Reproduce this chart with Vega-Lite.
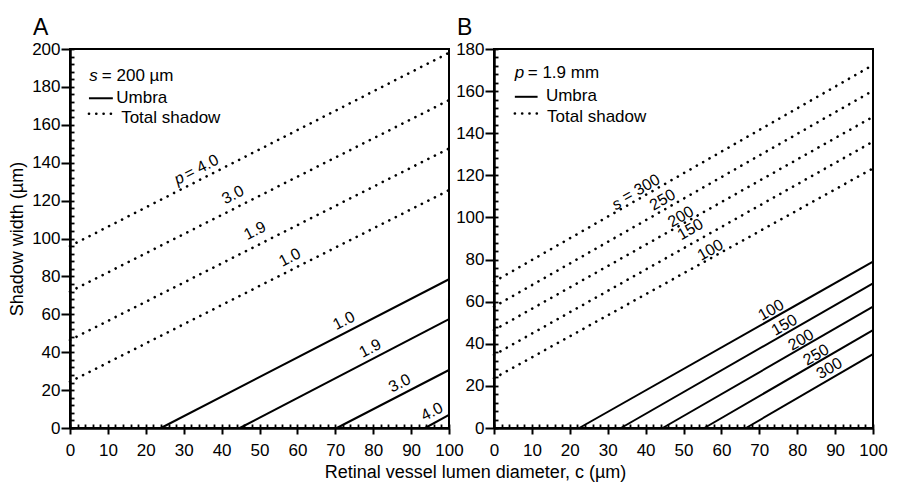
{
  "$schema": "https://vega.github.io/schema/vega-lite/v6.json",
  "background": "white",
  "padding": {"left": 7, "top": 16, "right": 5, "bottom": 5},
  "datasets": {
    "lines": [
      {"panel": "A", "kind": "total", "param": "4.0", "x": 0, "y": 96},
      {"panel": "A", "kind": "total", "param": "4.0", "x": 100, "y": 198},
      {"panel": "A", "kind": "total", "param": "3.0", "x": 0, "y": 72},
      {"panel": "A", "kind": "total", "param": "3.0", "x": 100, "y": 173},
      {"panel": "A", "kind": "total", "param": "1.9", "x": 0, "y": 46.4},
      {"panel": "A", "kind": "total", "param": "1.9", "x": 100, "y": 147.5},
      {"panel": "A", "kind": "total", "param": "1.0", "x": 0, "y": 24.4},
      {"panel": "A", "kind": "total", "param": "1.0", "x": 100, "y": 125.5},
      {"panel": "A", "kind": "umbra", "param": "1.0", "x": 24, "y": 0},
      {"panel": "A", "kind": "umbra", "param": "1.0", "x": 100, "y": 78.5},
      {"panel": "A", "kind": "umbra", "param": "1.9", "x": 44.8, "y": 0},
      {"panel": "A", "kind": "umbra", "param": "1.9", "x": 100, "y": 57.4},
      {"panel": "A", "kind": "umbra", "param": "3.0", "x": 70.4, "y": 0},
      {"panel": "A", "kind": "umbra", "param": "3.0", "x": 100, "y": 30.6},
      {"panel": "A", "kind": "umbra", "param": "4.0", "x": 93.7, "y": 0},
      {"panel": "A", "kind": "umbra", "param": "4.0", "x": 100, "y": 6.9},
      {"panel": "A", "kind": "umbra", "param": "legend", "x": 5, "y": 174},
      {"panel": "A", "kind": "umbra", "param": "legend", "x": 11.3, "y": 174},
      {"panel": "A", "kind": "total", "param": "legend", "x": 5, "y": 165.8},
      {"panel": "A", "kind": "total", "param": "legend", "x": 11.3, "y": 165.8},
      {"panel": "B", "kind": "total", "param": "300", "x": 0, "y": 69.5},
      {"panel": "B", "kind": "total", "param": "300", "x": 100, "y": 172.4},
      {"panel": "B", "kind": "total", "param": "250", "x": 0, "y": 57.6},
      {"panel": "B", "kind": "total", "param": "250", "x": 100, "y": 160.2},
      {"panel": "B", "kind": "total", "param": "200", "x": 0, "y": 46.5},
      {"panel": "B", "kind": "total", "param": "200", "x": 100, "y": 147.8},
      {"panel": "B", "kind": "total", "param": "150", "x": 0, "y": 34.7},
      {"panel": "B", "kind": "total", "param": "150", "x": 100, "y": 136},
      {"panel": "B", "kind": "total", "param": "100", "x": 0, "y": 23.6},
      {"panel": "B", "kind": "total", "param": "100", "x": 100, "y": 123.3},
      {"panel": "B", "kind": "umbra", "param": "100", "x": 22.5, "y": 0},
      {"panel": "B", "kind": "umbra", "param": "100", "x": 100, "y": 79},
      {"panel": "B", "kind": "umbra", "param": "150", "x": 33.5, "y": 0},
      {"panel": "B", "kind": "umbra", "param": "150", "x": 100, "y": 68.7},
      {"panel": "B", "kind": "umbra", "param": "200", "x": 44.5, "y": 0},
      {"panel": "B", "kind": "umbra", "param": "200", "x": 100, "y": 57.6},
      {"panel": "B", "kind": "umbra", "param": "250", "x": 55.5, "y": 0},
      {"panel": "B", "kind": "umbra", "param": "250", "x": 100, "y": 46.5},
      {"panel": "B", "kind": "umbra", "param": "300", "x": 66.5, "y": 0},
      {"panel": "B", "kind": "umbra", "param": "300", "x": 100, "y": 35.1},
      {"panel": "B", "kind": "umbra", "param": "legend", "x": 5.5, "y": 157.3},
      {"panel": "B", "kind": "umbra", "param": "legend", "x": 11.5, "y": 157.3},
      {"panel": "B", "kind": "total", "param": "legend", "x": 5.5, "y": 149.4},
      {"panel": "B", "kind": "total", "param": "legend", "x": 11.5, "y": 149.4}
    ],
    "labels": [
      {"panel": "A", "role": "symbol", "text": "p", "x": 28.8, "y": 131.7},
      {"panel": "A", "role": "line", "text": "= 4.0", "x": 34.7, "y": 137.7},
      {"panel": "A", "role": "line", "text": "3.0", "x": 43, "y": 123},
      {"panel": "A", "role": "line", "text": "1.9", "x": 48.8, "y": 104.1},
      {"panel": "A", "role": "line", "text": "1.0", "x": 58, "y": 90},
      {"panel": "A", "role": "line", "text": "1.0", "x": 72.3, "y": 56.6},
      {"panel": "A", "role": "line", "text": "1.9", "x": 79.2, "y": 42},
      {"panel": "A", "role": "line", "text": "3.0", "x": 87, "y": 23.6},
      {"panel": "A", "role": "line", "text": "4.0", "x": 95.5, "y": 8.6},
      {"panel": "A", "role": "legendsym", "text": "s", "x": 5.1, "y": 185.7},
      {"panel": "A", "role": "legend", "text": "= 200 µm", "x": 8.4, "y": 185.7},
      {"panel": "A", "role": "legend", "text": "Umbra", "x": 12.2, "y": 174},
      {"panel": "A", "role": "legend", "text": "Total shadow", "x": 13.5, "y": 163.6},
      {"panel": "B", "role": "symbol", "text": "s", "x": 32.4, "y": 106.3},
      {"panel": "B", "role": "line", "text": "= 300", "x": 38.8, "y": 113.8},
      {"panel": "B", "role": "line", "text": "250", "x": 44.5, "y": 108.3},
      {"panel": "B", "role": "line", "text": "200", "x": 49.3, "y": 100.3},
      {"panel": "B", "role": "line", "text": "150", "x": 51.8, "y": 94.3},
      {"panel": "B", "role": "line", "text": "100", "x": 57.1, "y": 84.5},
      {"panel": "B", "role": "line", "text": "100", "x": 73.1, "y": 56},
      {"panel": "B", "role": "line", "text": "150", "x": 76.6, "y": 48.9},
      {"panel": "B", "role": "line", "text": "200", "x": 81, "y": 41.8},
      {"panel": "B", "role": "line", "text": "250", "x": 85, "y": 34.7},
      {"panel": "B", "role": "line", "text": "300", "x": 88.5, "y": 28.3},
      {"panel": "B", "role": "legendsym", "text": "p", "x": 5.5, "y": 168.7},
      {"panel": "B", "role": "legend", "text": "= 1.9 mm", "x": 8.9, "y": 168.7},
      {"panel": "B", "role": "legend", "text": "Umbra", "x": 13.7, "y": 157.6},
      {"panel": "B", "role": "legend", "text": "Total shadow", "x": 14, "y": 147.8}
    ]
  },
  "spacing": 45,
  "bounds": "flush",
  "hconcat": [
    {
      "width": 379,
      "height": 379,
      "title": {"text": "A", "anchor": "start", "frame": "group", "dx": -37, "fontSize": 23, "fontWeight": "normal", "offset": 0},
      "resolve": {"axis": {"x": "independent", "y": "independent"}},
      "layer": [
        {
          "data": {"name": "lines"},
          "transform": [{"filter": "datum.panel === 'A' && datum.kind === 'umbra'"}],
          "mark": {"type": "line", "color": "black", "strokeWidth": 2},
          "encoding": {
            "x": {"field": "x", "type": "quantitative", "scale": {"domain": [0, 100], "nice": false},
                  "axis": {"orient": "bottom", "values": [0, 10, 20, 30, 40, 50, 60, 70, 80, 90, 100], "tickSize": 6, "labelPadding": 8, "title": null}},
            "y": {"field": "y", "type": "quantitative", "scale": {"domain": [0, 200], "nice": false},
                  "axis": {"orient": "left", "values": [0, 20, 40, 60, 80, 100, 120, 140, 160, 180, 200], "tickSize": 9, "labelPadding": 1, "title": "Shadow width (µm)", "titlePadding": 5}},
            "detail": {"field": "param"}
          }
        },
        {
          "data": {"name": "lines"},
          "transform": [{"filter": "datum.panel === 'A' && datum.kind === 'total'"}],
          "mark": {"type": "line", "color": "black", "strokeWidth": 2.6, "strokeDash": [0.1, 7.2], "strokeCap": "round"},
          "encoding": {
            "x": {"field": "x", "type": "quantitative", "scale": {"domain": [0, 100], "nice": false},
                  "axis": {"orient": "bottom", "values": [0, 2, 4, 6, 8, 10, 12, 14, 16, 18, 20, 22, 24, 26, 28, 30, 32, 34, 36, 38, 40, 42, 44, 46, 48, 50, 52, 54, 56, 58, 60, 62, 64, 66, 68, 70, 72, 74, 76, 78, 80, 82, 84, 86, 88, 90, 92, 94, 96, 98, 100], "tickSize": -4, "tickWidth": 1.8, "labels": false, "domain": false, "title": null}},
            "y": {"field": "y", "type": "quantitative", "scale": {"domain": [0, 200], "nice": false},
                  "axis": {"orient": "left", "values": [0, 4, 8, 12, 16, 20, 24, 28, 32, 36, 40, 44, 48, 52, 56, 60, 64, 68, 72, 76, 80, 84, 88, 92, 96, 100, 104, 108, 112, 116, 120, 124, 128, 132, 136, 140, 144, 148, 152, 156, 160, 164, 168, 172, 176, 180, 184, 188, 192, 196, 200], "tickSize": -4, "tickWidth": 1.8, "labels": false, "domain": false, "title": null}},
            "detail": {"field": "param"}
          }
        },
        {
          "data": {"name": "labels"},
          "transform": [{"filter": "datum.panel === 'A' && datum.role === 'line'"}],
          "mark": {"type": "text", "angle": -27, "align": "center", "baseline": "middle", "fontSize": 16},
          "encoding": {
            "x": {"field": "x", "type": "quantitative", "axis": null},
            "y": {"field": "y", "type": "quantitative", "axis": null},
            "text": {"field": "text"}
          }
        },
        {
          "data": {"name": "labels"},
          "transform": [{"filter": "datum.panel === 'A' && datum.role === 'symbol'"}],
          "mark": {"type": "text", "angle": -27, "align": "center", "baseline": "middle", "fontSize": 16, "fontStyle": "italic"},
          "encoding": {
            "x": {"field": "x", "type": "quantitative", "axis": null},
            "y": {"field": "y", "type": "quantitative", "axis": null},
            "text": {"field": "text"}
          }
        },
        {
          "data": {"name": "labels"},
          "transform": [{"filter": "datum.panel === 'A' && datum.role === 'legend'"}],
          "mark": {"type": "text", "align": "left", "baseline": "middle", "fontSize": 17},
          "encoding": {
            "x": {"field": "x", "type": "quantitative", "axis": null},
            "y": {"field": "y", "type": "quantitative", "axis": null},
            "text": {"field": "text"}
          }
        },
        {
          "data": {"name": "labels"},
          "transform": [{"filter": "datum.panel === 'A' && datum.role === 'legendsym'"}],
          "mark": {"type": "text", "align": "left", "baseline": "middle", "fontSize": 17, "fontStyle": "italic"},
          "encoding": {
            "x": {"field": "x", "type": "quantitative", "axis": null},
            "y": {"field": "y", "type": "quantitative", "axis": null},
            "text": {"field": "text"}
          }
        }
      ]
    },
    {
      "width": 379,
      "height": 379,
      "title": {"text": "B", "anchor": "start", "frame": "group", "dx": -37, "fontSize": 23, "fontWeight": "normal", "offset": 0},
      "resolve": {"axis": {"x": "independent", "y": "independent"}},
      "layer": [
        {
          "data": {"name": "lines"},
          "transform": [{"filter": "datum.panel === 'B' && datum.kind === 'umbra'"}],
          "mark": {"type": "line", "color": "black", "strokeWidth": 2},
          "encoding": {
            "x": {"field": "x", "type": "quantitative", "scale": {"domain": [0, 100], "nice": false},
                  "axis": {"orient": "bottom", "values": [0, 10, 20, 30, 40, 50, 60, 70, 80, 90, 100], "tickSize": 6, "labelPadding": 8, "title": "Retinal vessel lumen diameter, c (µm)", "titleX": -19, "titlePadding": 5}},
            "y": {"field": "y", "type": "quantitative", "scale": {"domain": [0, 180], "nice": false},
                  "axis": {"orient": "left", "values": [0, 20, 40, 60, 80, 100, 120, 140, 160, 180], "tickSize": 9, "labelPadding": 1, "title": null}},
            "detail": {"field": "param"}
          }
        },
        {
          "data": {"name": "lines"},
          "transform": [{"filter": "datum.panel === 'B' && datum.kind === 'total'"}],
          "mark": {"type": "line", "color": "black", "strokeWidth": 2.6, "strokeDash": [0.1, 7.2], "strokeCap": "round"},
          "encoding": {
            "x": {"field": "x", "type": "quantitative", "scale": {"domain": [0, 100], "nice": false},
                  "axis": {"orient": "bottom", "values": [0, 2, 4, 6, 8, 10, 12, 14, 16, 18, 20, 22, 24, 26, 28, 30, 32, 34, 36, 38, 40, 42, 44, 46, 48, 50, 52, 54, 56, 58, 60, 62, 64, 66, 68, 70, 72, 74, 76, 78, 80, 82, 84, 86, 88, 90, 92, 94, 96, 98, 100], "tickSize": -4, "tickWidth": 1.8, "labels": false, "domain": false, "title": null}},
            "y": {"field": "y", "type": "quantitative", "scale": {"domain": [0, 180], "nice": false},
                  "axis": {"orient": "left", "values": [0, 4, 8, 12, 16, 20, 24, 28, 32, 36, 40, 44, 48, 52, 56, 60, 64, 68, 72, 76, 80, 84, 88, 92, 96, 100, 104, 108, 112, 116, 120, 124, 128, 132, 136, 140, 144, 148, 152, 156, 160, 164, 168, 172, 176, 180], "tickSize": -4, "tickWidth": 1.8, "labels": false, "domain": false, "title": null}},
            "detail": {"field": "param"}
          }
        },
        {
          "data": {"name": "labels"},
          "transform": [{"filter": "datum.panel === 'B' && datum.role === 'line'"}],
          "mark": {"type": "text", "angle": -30, "align": "center", "baseline": "middle", "fontSize": 16},
          "encoding": {
            "x": {"field": "x", "type": "quantitative", "axis": null},
            "y": {"field": "y", "type": "quantitative", "axis": null},
            "text": {"field": "text"}
          }
        },
        {
          "data": {"name": "labels"},
          "transform": [{"filter": "datum.panel === 'B' && datum.role === 'symbol'"}],
          "mark": {"type": "text", "angle": -30, "align": "center", "baseline": "middle", "fontSize": 16, "fontStyle": "italic"},
          "encoding": {
            "x": {"field": "x", "type": "quantitative", "axis": null},
            "y": {"field": "y", "type": "quantitative", "axis": null},
            "text": {"field": "text"}
          }
        },
        {
          "data": {"name": "labels"},
          "transform": [{"filter": "datum.panel === 'B' && datum.role === 'legend'"}],
          "mark": {"type": "text", "align": "left", "baseline": "middle", "fontSize": 17},
          "encoding": {
            "x": {"field": "x", "type": "quantitative", "axis": null},
            "y": {"field": "y", "type": "quantitative", "axis": null},
            "text": {"field": "text"}
          }
        },
        {
          "data": {"name": "labels"},
          "transform": [{"filter": "datum.panel === 'B' && datum.role === 'legendsym'"}],
          "mark": {"type": "text", "align": "left", "baseline": "middle", "fontSize": 17, "fontStyle": "italic"},
          "encoding": {
            "x": {"field": "x", "type": "quantitative", "axis": null},
            "y": {"field": "y", "type": "quantitative", "axis": null},
            "text": {"field": "text"}
          }
        }
      ]
    }
  ],
  "config": {
    "view": {"stroke": "black", "strokeWidth": 2},
    "font": "Liberation Sans",
    "axis": {
      "domainColor": "black", "domainWidth": 2.5, "tickColor": "black", "tickWidth": 2,
      "labelColor": "black", "labelFont": "Liberation Sans", "labelFontSize": 17,
      "titleFont": "Liberation Sans", "titleFontSize": 18, "titleFontWeight": "normal", "titleColor": "black",
      "grid": false, "labelFlush": false, "labelOverlap": false
    },
    "text": {"font": "Liberation Sans", "color": "black"},
    "title": {"font": "Liberation Sans", "color": "black"}
  }
}
